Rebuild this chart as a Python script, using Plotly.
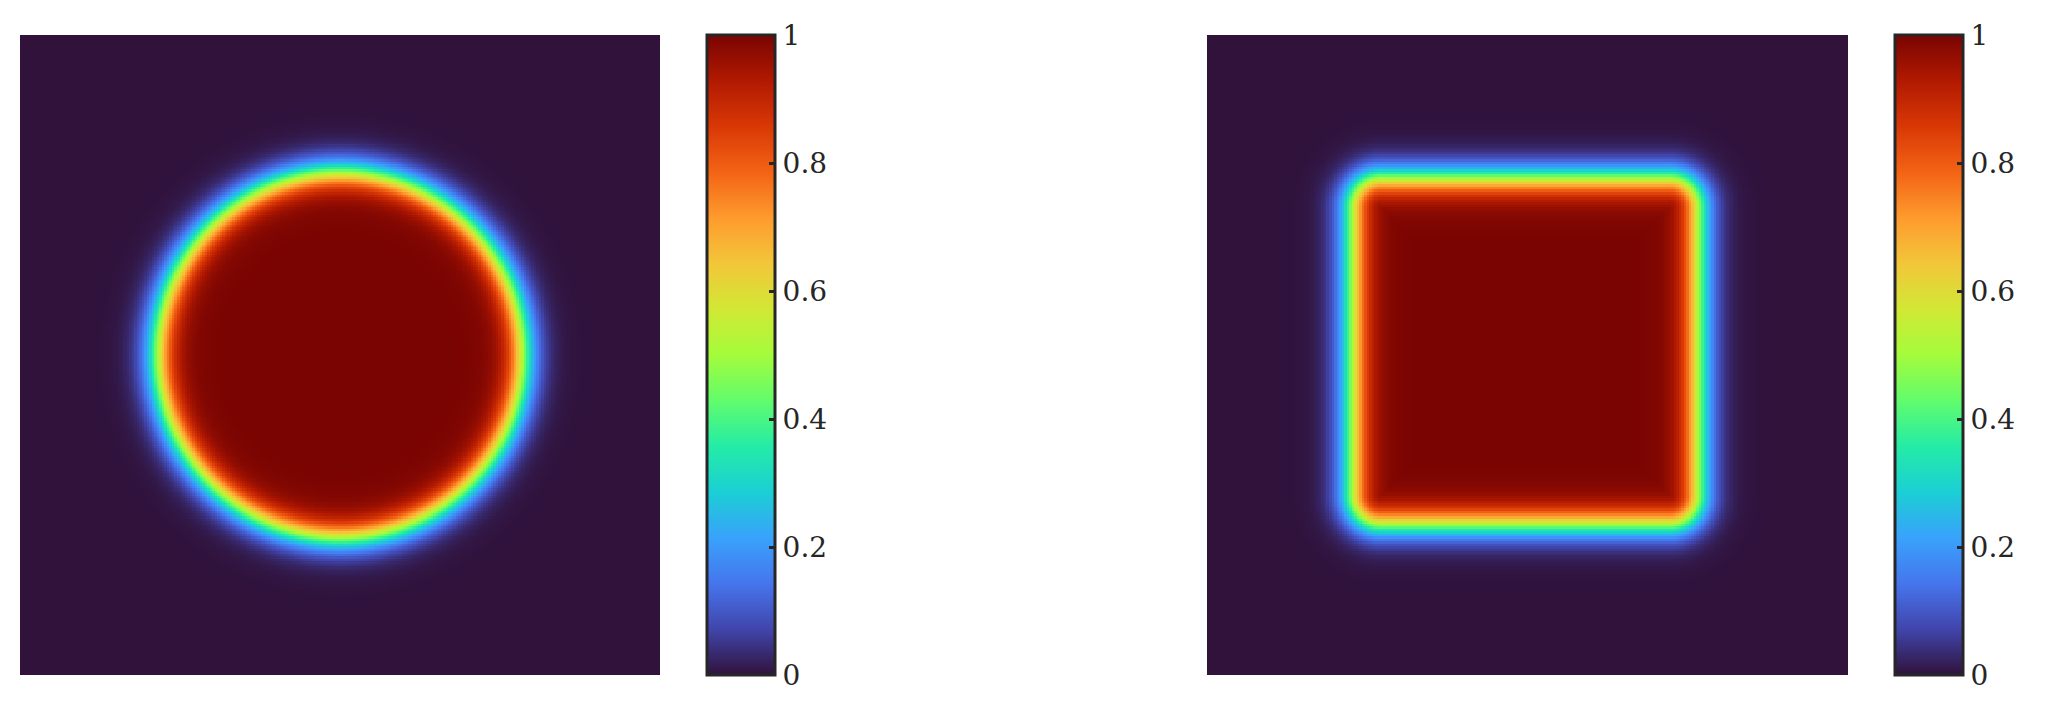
import numpy as np
import plotly.graph_objects as go

N = 256
tick_vals = [0, 0.2, 0.4, 0.6, 0.8, 1]
tick_text = ["0", "0.2", "0.4", "0.6", "0.8", "1"]
circle_center = [0.5, 0.5]
circle_radius = 0.285
square_center = [0.496, 0.506]
square_half = 0.225
square_corner = 0.045
interface_eps = 0.028

x = np.linspace(0, 1, N)
X, Y = np.meshgrid(x, x)
r = np.sqrt((X - circle_center[0])**2 + (Y - circle_center[1])**2)
phi1 = 0.5 * (1 + np.tanh((circle_radius - r) / interface_eps))
qx = np.abs(X - square_center[0]) - square_half
qy = np.abs(Y - square_center[1]) - square_half
d = np.sqrt(np.maximum(qx, 0)**2 + np.maximum(qy, 0)**2) + np.minimum(np.maximum(qx, qy), 0) - square_corner
phi2 = 0.5 * (1 + np.tanh(-d / interface_eps))

W, H = 2048, 702
OFF = 8
def px(a): return (a - OFF) / W
def py(b): return 1 - (b - OFF) / H

def cbar(x0, x1):
    return dict(x=px(x0), xanchor="left", thickness=x1 - x0, thicknessmode="pixels",
                xpad=0, ypad=0,
                y=py(675), yanchor="bottom", len=(675 - 35) / H, lenmode="fraction",
                tickvals=tick_vals, ticktext=tick_text, ticks="inside", ticklen=7,
                tickwidth=2.5, tickcolor="#262626", outlinewidth=3, outlinecolor="#262626",
                tickfont=dict(family="DejaVu Serif", size=28, color="#262626"))

fig = go.Figure()
fig.add_trace(go.Heatmap(z=phi1, x=x, y=x, colorscale="Turbo", zmin=0, zmax=1,
                         colorbar=cbar(707, 775), xaxis="x", yaxis="y"))
fig.add_trace(go.Heatmap(z=phi2, x=x, y=x, colorscale="Turbo", zmin=0, zmax=1,
                         colorbar=cbar(1895, 1963), xaxis="x2", yaxis="y2"))
ax = dict(visible=False, range=[0, 1])
fig.update_layout(
    width=W, height=H, margin=dict(l=0, r=0, t=0, b=0),
    paper_bgcolor="white", plot_bgcolor="white",
    xaxis=dict(ax, domain=[px(20), px(660)]),
    yaxis=dict(ax, domain=[py(675), py(35)]),
    xaxis2=dict(ax, domain=[px(1207), px(1848)]),
    yaxis2=dict(ax, domain=[py(675), py(35)]),
)
fig.write_html("out.html")
